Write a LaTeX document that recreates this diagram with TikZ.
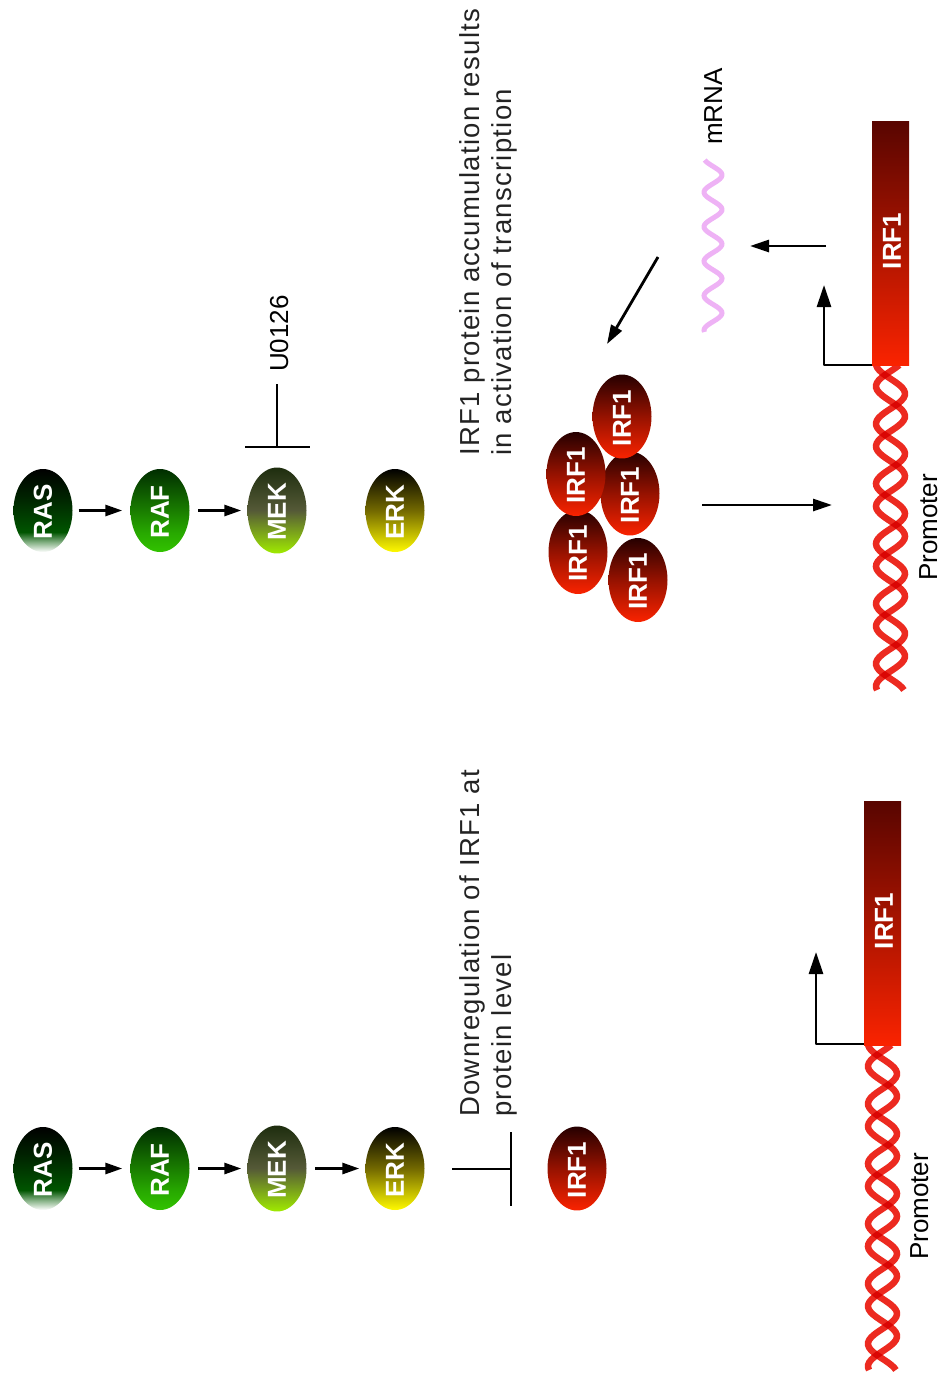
\documentclass[tikz,border=0pt]{standalone}
\usepackage{fontspec}
\setmainfont{Liberation Sans}
\newfontfamily\capfont[LetterSpace=4.7]{Liberation Sans}
\usetikzlibrary{arrows.meta,shapes.geometric}
\definecolor{inkdark}{RGB}{35,35,35}
\definecolor{helixred}{RGB}{236,42,32}
\definecolor{rnapink}{RGB}{238,178,245}
\definecolor{irfdark}{RGB}{38,0,0}
\definecolor{irfmid}{RGB}{150,18,0}
\definecolor{irflight}{RGB}{250,35,0}
\definecolor{geneDark}{RGB}{88,5,0}
% Vertical fills for the kinase ovals; 25bp and 75bp are the lower and upper edges of a shape
\pgfdeclareverticalshading{rasfill}{100bp}{color(0bp)=(white); color(25bp)=(white); color(31bp)=(rgb,255:red,130;green,175;blue,130); color(37bp)=(rgb,255:red,0;green,85;blue,0); color(58bp)=(rgb,255:red,0;green,35;blue,0); color(75bp)=(black); color(100bp)=(black)}
\pgfdeclareverticalshading{raffill}{100bp}{color(0bp)=(rgb,255:red,50;green,195;blue,0); color(25bp)=(rgb,255:red,50;green,195;blue,0); color(36bp)=(rgb,255:red,40;green,170;blue,0); color(75bp)=(rgb,255:red,0;green,45;blue,0); color(100bp)=(rgb,255:red,0;green,45;blue,0)}
\pgfdeclareverticalshading{mekfill}{100bp}{color(0bp)=(rgb,255:red,160;green,235;blue,0); color(25bp)=(rgb,255:red,160;green,235;blue,0); color(50bp)=(rgb,255:red,85;green,90;blue,55); color(75bp)=(rgb,255:red,30;green,45;blue,15); color(100bp)=(rgb,255:red,30;green,45;blue,15)}
\pgfdeclareverticalshading{erkfill}{100bp}{color(0bp)=(rgb,255:red,255;green,250;blue,0); color(25bp)=(rgb,255:red,255;green,250;blue,0); color(50bp)=(rgb,255:red,115;green,105;blue,0); color(75bp)=(black); color(100bp)=(black)}
\pgfdeclareverticalshading{irffill}{100bp}{color(0bp)=(irflight); color(25bp)=(irflight); color(50bp)=(irfmid); color(75bp)=(irfdark); color(100bp)=(irfdark)}
\tikzset{
  oval/.style={ellipse,minimum width=59pt,minimum height=83pt,inner sep=0pt,text=white,
    font=\fontsize{26}{26}\selectfont\bfseries},
  rasoval/.style={oval,shading=rasfill},
  rafoval/.style={oval,shading=raffill},
  mekoval/.style={oval,shading=mekfill},
  erkoval/.style={oval,shading=erkfill},
  irfoval/.style={oval,shading=irffill},
  gene/.style={rectangle,minimum width=37pt,minimum height=244pt,inner sep=0pt,
    top color=geneDark,bottom color=irflight},
  genelabel/.style={rotate=90,inner sep=0pt,text=white,font=\fontsize{26}{26}\selectfont\bfseries},
  caption/.style={rotate=90,anchor=base west,inner sep=0pt,text=inkdark,font=\capfont\fontsize{27.5}{27.5}\selectfont},
  label/.style={rotate=90,anchor=base west,inner sep=0pt,text=black,font=\fontsize{26}{26}\selectfont},
  link/.style={line width=2.8pt,draw=black},
  step arrow/.style={link,-{Triangle[length=17pt,width=11pt]},shorten <=6pt,shorten >=8pt},
  late step arrow/.style={link,-{Triangle[length=17pt,width=11pt]},shorten <=8.5pt,shorten >=6pt},
  flow arrow/.style={link,-{Triangle[length=19pt,width=12pt]}},
  start arrow/.style={link,line join=round,-{Triangle[length=22pt,width=14pt]}},
  strand/.style={line width=6.5pt,draw=helixred},
  rna/.style={line width=5pt,draw=rnapink}
}
\newcommand{\ovaltext}[1]{\rotatebox{90}{#1\kern3pt}}
% Double helix: centre x, first y, y of a left-hand strand crossing.
% The strands are 135 degrees apart, so crossings alternate left and right of the axis.
\newcommand{\helix}[3]{%
  \begin{scope}[blend mode=multiply]
  \draw[strand] plot[domain=#2:#2+325,samples=130,smooth,variable=\t]
    ({#1+14.5*sin(6*(\t-#3)+202.5)},{\t});
  \draw[strand] plot[domain=#2:#2+325,samples=130,smooth,variable=\t]
    ({#1+14.5*sin(6*(\t-#3)+337.5)},{\t});
  \end{scope}
}
\begin{document}
\begin{tikzpicture}[x=1pt,y=-1pt]
\useasboundingbox (0,0) rectangle (943,1374);

% Signalling cascade, U0126-treated cells
\node[rasoval] (rasA) at (43,510.5) {\ovaltext{RAS}};
\node[rafoval] (rafA) at (160,510.5) {\ovaltext{RAF}};
\node[mekoval] (mekA) at (277,510.5) {\ovaltext{MEK}};
\node[erkoval] (erkA) at (395,510.5) {\ovaltext{ERK}};
\draw[step arrow] (rasA) -- (rafA);
\draw[late step arrow] (rafA) -- (mekA);

% U0126 inhibition of MEK
\node[label] (u0126) at (288,372) {U0126};
\coordinate (uStem) at (277,384);
\coordinate (uJoin) at (277,447);
\coordinate (uBarL) at (245,447);
\coordinate (uBarR) at (310,447);
\draw[link] (uStem) -- (uJoin);
\draw[link] (uBarL) -- (uBarR);

% Signalling cascade, untreated cells
\node[rasoval] (rasB) at (43,1168.5) {\ovaltext{RAS}};
\node[rafoval] (rafB) at (160,1168.5) {\ovaltext{RAF}};
\node[mekoval] (mekB) at (277,1168.5) {\ovaltext{MEK}};
\node[erkoval] (erkB) at (395,1168.5) {\ovaltext{ERK}};
\node[irfoval] (irfB) at (577,1168.5) {\ovaltext{IRF1}};
\draw[step arrow] (rasB) -- (rafB);
\draw[late step arrow] (rafB) -- (mekB);
\draw[late step arrow] (mekB) -- (erkB);

% ERK-driven loss of IRF1
\coordinate (dStem) at (452,1169);
\coordinate (dJoin) at (511,1169);
\coordinate (dBarT) at (511,1132);
\coordinate (dBarB) at (511,1206);
\draw[link] (dStem) -- (dJoin);
\draw[link] (dBarT) -- (dBarB);

% Captions
\node[caption] (capA1) at (479,456) {IRF1 protein accumulation results};
\node[caption] (capA2) at (511,456) {in activation of transcription};
\node[caption] (capB1) at (479,1117) {Downregulation of IRF1 at};
\node[caption] (capB2) at (511,1117) {protein level};

% IRF1 protein cluster, back to front
\node[irfoval] (irf3) at (630,493.5) {\ovaltext{IRF1}};
\node[irfoval] (irf4) at (578,552) {\ovaltext{IRF1}};
\node[irfoval] (irf5) at (638,580) {\ovaltext{IRF1}};
\node[irfoval] (irf1) at (622,416.5) {\ovaltext{IRF1}};
\node[irfoval] (irf2) at (576,474) {\ovaltext{IRF1}};

% mRNA strand
\draw[rna] plot[domain=160:332,samples=110,smooth,variable=\t]
  ({713+9*cos(360/34.5*(\t-175))},{\t});
\node[label] (mrna) at (722,145) {mRNA};

% Promoter and IRF1 gene, upper
\helix{890.5}{365}{375}
\node[gene] (geneA) at (890.5,243) {};
\node[genelabel] (geneLabelA) at (892,241) {IRF1};
\node[label] (promA) at (937,581) {Promoter};
\coordinate (tssA) at (872,365);
\coordinate (cornerA) at (824,365);
\coordinate (tipA) at (824,285);
\draw[start arrow] (tssA) -- (cornerA) -- (tipA);

% Flow from gene through mRNA to protein and back to the promoter
\coordinate (txStart) at (826,246);
\coordinate (txEnd) at (750,246);
\coordinate (tlStart) at (658,257);
\coordinate (tlEnd) at (607,344);
\coordinate (bindStart) at (702,505);
\coordinate (bindEnd) at (832,505);
\draw[flow arrow] (txStart) -- (txEnd);
\draw[flow arrow] (tlStart) -- (tlEnd);
\draw[flow arrow] (bindStart) -- (bindEnd);

% Promoter and IRF1 gene, lower
\helix{882.5}{1045}{1055}
\node[gene] (geneB) at (882.5,923) {};
\node[genelabel] (geneLabelB) at (884,921) {IRF1};
\node[label] (promB) at (928,1260) {Promoter};
\coordinate (tssB) at (864,1044);
\coordinate (cornerB) at (816,1044);
\coordinate (tipB) at (816,952);
\draw[start arrow] (tssB) -- (cornerB) -- (tipB);
\end{tikzpicture}
\end{document}
